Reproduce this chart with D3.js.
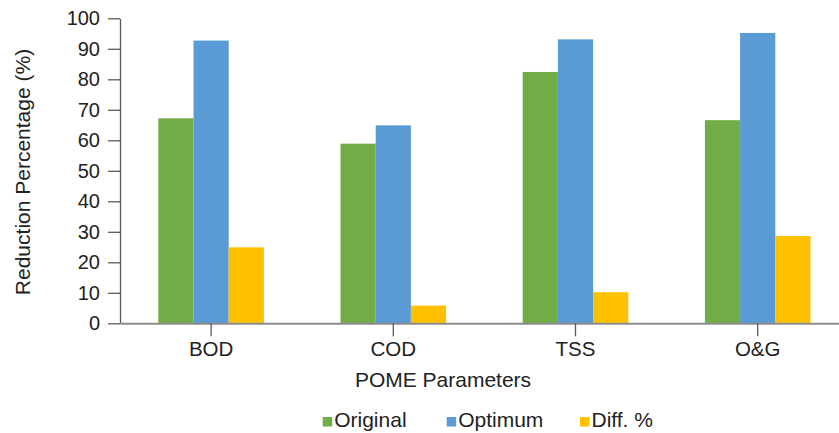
<!DOCTYPE html>
<html><head><meta charset="utf-8">
<script src="https://cdn.jsdelivr.net/npm/d3@7/dist/d3.min.js"></script>
<style>body{margin:0;background:#fff}svg{display:block}</style>
</head><body><svg id="c" width="839" height="433"></svg>
<script>
const categories = ["BOD", "COD", "TSS", "O&G"];
const seriesNames = ["Original", "Optimum", "Diff. %"];
const original = [67.2, 58.9, 82.4, 66.6];
const optimum = [92.7, 64.9, 93.1, 95.2];
const diff = [24.9, 5.8, 10.2, 28.6];
const yTicks = [0, 10, 20, 30, 40, 50, 60, 70, 80, 90, 100];
const colors = ["#70AD47", "#5B9BD5", "#FFC000"];

const seriesValues = [original, optimum, diff];
const svg = d3.select("#c");
const font = "'Liberation Sans', Arial, sans-serif";
const mLeft = 120, mTop = 18.3, mBottom = 323.3, bandW = 182.2;
const x = d3.scaleBand().domain(categories).range([mLeft, mLeft + bandW * 4]).paddingInner(0).paddingOuter(0);
const y = d3.scaleLinear().domain([0, 100]).range([mBottom, mTop]);
const barW = 35.2;
const xs = d3.scaleBand().domain(seriesNames).range([0, barW * 3]);

// bars
categories.forEach((c, i) => {
  const g = svg.append("g").attr("transform", `translate(${x(c) + x.bandwidth() / 2 - barW * 1.5},0)`);
  seriesNames.forEach((s, j) => {
    const v = seriesValues[j][i];
    g.append("rect").attr("x", xs(s)).attr("width", xs.bandwidth())
      .attr("y", y(v)).attr("height", y(0) - y(v)).attr("fill", colors[j]);
  });
});

// y axis
const ya = svg.append("g").attr("transform", `translate(${mLeft},0)`)
  .call(d3.axisLeft(y).tickValues(yTicks).tickSize(12).tickPadding(8).tickSizeOuter(0));
ya.select(".domain").attr("stroke", "#595959").attr("stroke-width", 1.3);
ya.selectAll(".tick line").attr("stroke", "#595959").attr("stroke-width", 1.3);
ya.selectAll("text").attr("font-family", font).attr("font-size", 20).attr("fill", "#222");

// x axis
const xa = svg.append("g").attr("transform", `translate(0,${mBottom})`)
  .call(d3.axisBottom(x).tickSize(13).tickPadding(5).tickSizeOuter(0));
xa.select(".domain").attr("stroke", "#8c8c8c").attr("stroke-width", 2);
xa.selectAll(".tick line").attr("stroke", "#595959").attr("stroke-width", 1.3);
xa.selectAll("text").attr("font-family", font).attr("font-size", 20.5).attr("fill", "#222");

// axis titles
svg.append("text").attr("x", 443).attr("y", 387).attr("text-anchor", "middle")
  .attr("font-family", font).attr("font-size", 21).attr("fill", "#222").text("POME Parameters");
svg.append("text").attr("transform", "translate(30,172) rotate(-90)").attr("text-anchor", "middle")
  .attr("font-family", font).attr("font-size", 21).attr("fill", "#222").text("Reduction Percentage (%)");

// legend
const legX = [322.7, 446.7, 580];
seriesNames.forEach((s, j) => {
  svg.append("rect").attr("x", legX[j]).attr("y", 417).attr("width", 9.5).attr("height", 9.5).attr("fill", colors[j]);
  svg.append("text").attr("x", legX[j] + 11.5).attr("y", 426.5).attr("font-family", font)
    .attr("font-size", 21).attr("fill", "#222").text(s);
});
</script></body></html>
